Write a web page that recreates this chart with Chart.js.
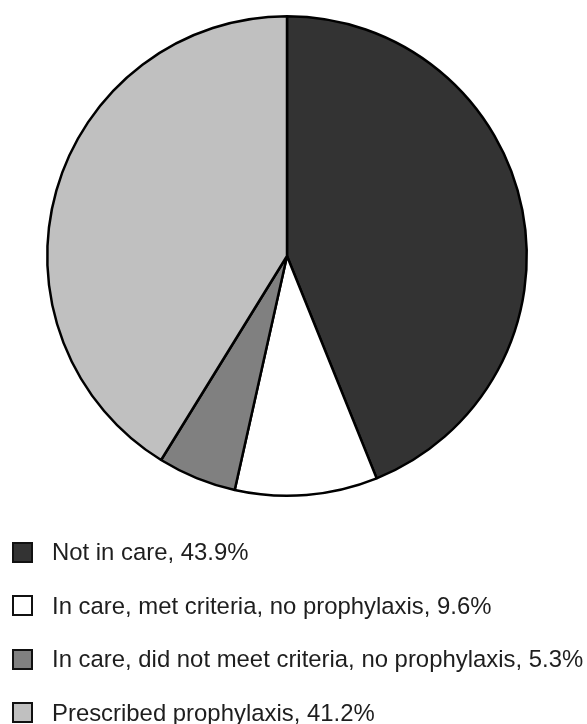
<!DOCTYPE html>
<html>
<head>
<meta charset="utf-8">
<script src="https://cdn.jsdelivr.net/npm/chart.js@4.4.0/dist/chart.umd.min.js"></script>
<style>
  html, body { margin: 0; padding: 0; background: #fff; }
  #wrap { position: relative; width: 587px; height: 724px; overflow: hidden; }
  #c { position: absolute; left: 0; top: 0; }
  .leg { position: absolute; left: 12px; height: 26px; display: flex; align-items: center;
         font-family: "Liberation Sans", Arial, sans-serif; font-size: 23.9px; color: #1e1e1e; white-space: nowrap; }
  .leg .box { width: 17px; height: 17px; border: 2px solid #111; margin-right: 19px; box-sizing: content-box; }
</style>
</head>
<body>
<div id="wrap">
  <canvas id="c" width="587" height="724"></canvas>
  <div id="legend"></div>
</div>
<script>
const categories = [
  "Not in care",
  "In care, met criteria, no prophylaxis",
  "In care, did not meet criteria, no prophylaxis",
  "Prescribed prophylaxis"
];
const percentages = [43.9, 9.6, 5.3, 41.2];
const sliceColors = ["#333333", "#ffffff", "#808080", "#c0c0c0"];
const legendLabels = categories.map((c, i) => c + ", " + percentages[i] + "%");

const canvas = document.getElementById('c');
canvas.style.width = '587px';
canvas.style.height = '724px';

new Chart(canvas, {
  type: 'pie',
  data: {
    labels: legendLabels,
    datasets: [{
      data: percentages,
      backgroundColor: sliceColors,
      borderColor: '#000000',
      borderWidth: 2.5
    }]
  },
  options: {
    responsive: false,
    animation: false,
    events: [],
    rotation: 0,
    layout: { padding: { left: 46, right: 59, top: 15, bottom: 227 } },
    plugins: {
      legend: { display: false },
      tooltip: { enabled: false }
    }
  }
});

const legendEl = document.getElementById('legend');
const rowCenters = [552, 605.5, 659, 712.5];
legendLabels.forEach((txt, i) => {
  const row = document.createElement('div');
  row.className = 'leg';
  row.style.top = (rowCenters[i] - 13) + 'px';
  const box = document.createElement('span');
  box.className = 'box';
  box.style.background = sliceColors[i];
  const label = document.createElement('span');
  label.textContent = txt;
  row.appendChild(box);
  row.appendChild(label);
  legendEl.appendChild(row);
});
</script>
</body>
</html>
